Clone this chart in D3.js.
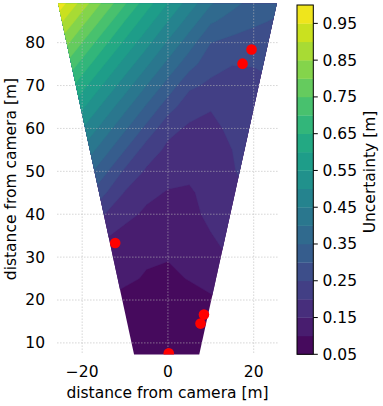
<!DOCTYPE html>
<html>
<head>
<meta charset="utf-8">
<script src="https://cdn.jsdelivr.net/npm/d3@7/dist/d3.min.js"></script>
<style>
  body { margin: 0; background: #fff; }
  text { font-family: "DejaVu Sans", sans-serif; font-size: 15.5px; fill: #000; }
</style>
</head>
<body>
<script>
var w = 383,
    h = 406;

// grid of the uncertainty field (x across, y rows from bottom to top)
var gridX = [-30, -25, -20, -15, -10, -5, 0, 5, 10, 15, 20, 25, 30];
var gridY = [5, 10, 15, 20, 25, 30, 35, 40, 45, 50, 55, 60, 65, 70, 75, 80, 85, 90];
var uncertainty = [
  [0.12, 0.10, 0.085, 0.075, 0.068, 0.065, 0.063, 0.065, 0.072, 0.082, 0.092, 0.10, 0.105],
  [0.13, 0.105, 0.09, 0.08, 0.073, 0.07, 0.068, 0.07, 0.078, 0.088, 0.098, 0.105, 0.11],
  [0.15, 0.12, 0.10, 0.088, 0.08, 0.075, 0.073, 0.077, 0.085, 0.095, 0.105, 0.11, 0.12],
  [0.18, 0.145, 0.12, 0.10, 0.09, 0.082, 0.08, 0.085, 0.095, 0.11, 0.12, 0.13, 0.14],
  [0.23, 0.185, 0.145, 0.118, 0.106, 0.097, 0.092, 0.102, 0.112, 0.125, 0.135, 0.145, 0.15],
  [0.29, 0.23, 0.175, 0.135, 0.115, 0.104, 0.102, 0.106, 0.132, 0.155, 0.165, 0.175, 0.18],
  [0.357, 0.286, 0.216, 0.156, 0.135, 0.12, 0.115, 0.12, 0.148, 0.165, 0.18, 0.19, 0.195],
  [0.415, 0.343, 0.272, 0.202, 0.163, 0.142, 0.13, 0.138, 0.16, 0.172, 0.19, 0.20, 0.205],
  [0.472, 0.40, 0.328, 0.258, 0.196, 0.16, 0.147, 0.147, 0.158, 0.19, 0.205, 0.21, 0.215],
  [0.529, 0.458, 0.386, 0.315, 0.24, 0.193, 0.165, 0.155, 0.158, 0.198, 0.21, 0.215, 0.22],
  [0.578, 0.515, 0.443, 0.372, 0.30, 0.225, 0.19, 0.172, 0.168, 0.20, 0.212, 0.22, 0.225],
  [0.647, 0.574, 0.50, 0.429, 0.357, 0.286, 0.213, 0.193, 0.188, 0.21, 0.218, 0.225, 0.23],
  [0.716, 0.632, 0.559, 0.486, 0.414, 0.343, 0.272, 0.218, 0.203, 0.21, 0.22, 0.23, 0.235],
  [0.782, 0.699, 0.618, 0.544, 0.473, 0.40, 0.33, 0.26, 0.24, 0.235, 0.238, 0.245, 0.25],
  [0.851, 0.766, 0.682, 0.604, 0.53, 0.459, 0.386, 0.32, 0.268, 0.251, 0.252, 0.26, 0.265],
  [0.928, 0.834, 0.749, 0.665, 0.589, 0.516, 0.443, 0.372, 0.30, 0.285, 0.275, 0.27, 0.27],
  [1.002, 0.909, 0.817, 0.733, 0.648, 0.574, 0.50, 0.429, 0.357, 0.33, 0.31, 0.295, 0.29],
  [1.076, 0.984, 0.891, 0.80, 0.716, 0.632, 0.559, 0.486, 0.415, 0.37, 0.34, 0.32, 0.31]
];

// camera field of view (corners of the covered area)
var fovX = [-25.6, 25.4, 7.3, -7.9];
var fovY = [89.1, 89.1, 7.3, 7.3];

// detected objects
var dotX = [19.5, 17.4, -12.3, 8.4, 7.6, 0.2];
var dotY = [78.4, 75.1, 33.3, 16.6, 14.5, 7.6];

var levels = d3.range(0.05, 0.951, 0.05).map(function(d) { return +d.toFixed(2); });
var cbarTicks = [0.05, 0.15, 0.25, 0.35, 0.45, 0.55, 0.65, 0.75, 0.85, 0.95];
var xTicks = [-20, 0, 20];
var yTicks = [10, 20, 30, 40, 50, 60, 70, 80];

var svg = d3.select('body')
            .append('svg')
            .attr('width', w)
            .attr('height', h);

var x = d3.scaleLinear()
          .domain([-25.8, 25.6])
          .range([57.3, 277.7]);

var y = d3.scaleLinear()
          .domain([7.3, 89.1])
          .range([354.5, 3.6]);

// band colour: viridis at the middle of each band
var bandColor = function(lo) {
  return d3.interpolateViridis((lo + 0.025 - 0.05) / 0.95);
};

var defs = svg.append('defs');

defs.append('clipPath')
    .attr('id', 'fov')
    .append('polygon')
    .attr('points', fovX.map(function(d, i) {
      return x(d) + ',' + y(fovY[i]);
    }).join(' '));

defs.append('clipPath')
    .attr('id', 'axes')
    .append('rect')
    .attr('x', x.range()[0])
    .attr('y', y.range()[1])
    .attr('width', x.range()[1] - x.range()[0])
    .attr('height', y.range()[0] - y.range()[1]);

// contours from the grid
var nx = gridX.length,
    ny = gridY.length;
var flat = [];
uncertainty.forEach(function(row) { row.forEach(function(v) { flat.push(v); }); });

var contours = d3.contours()
                 .size([nx, ny])
                 .thresholds(levels)(flat);

var stepX = gridX[1] - gridX[0],
    stepY = gridY[1] - gridY[0];

var path = d3.geoPath(d3.geoTransform({
  point: function(gx, gy) {
    this.stream.point(x(gridX[0] + (gx - 0.5) * stepX),
                      y(gridY[0] + (gy - 0.5) * stepY));
  }
}));

svg.append('g')
   .attr('clip-path', 'url(#fov)')
   .selectAll('path')
   .data(contours)
   .enter()
   .append('path')
   .attr('d', path)
   .style('fill', function(d) { return bandColor(d.value); })
   .style('stroke', function(d) { return bandColor(d.value); })
   .style('stroke-width', 0.4);

// grid lines on top
var grid = svg.append('g')
              .style('stroke', '#b8b8b8')
              .style('stroke-opacity', 0.8)
              .style('stroke-width', 1)
              .style('stroke-dasharray', '1.1,1.9');

grid.selectAll('.gx')
    .data(xTicks)
    .enter()
    .append('line')
    .attr('x1', function(d) { return x(d); })
    .attr('x2', function(d) { return x(d); })
    .attr('y1', y.range()[1])
    .attr('y2', y.range()[0]);

grid.selectAll('.gy')
    .data(yTicks)
    .enter()
    .append('line')
    .attr('y1', function(d) { return y(d); })
    .attr('y2', function(d) { return y(d); })
    .attr('x1', x.range()[0])
    .attr('x2', x.range()[1]);

// points
svg.append('g')
   .attr('clip-path', 'url(#axes)')
   .selectAll('circle')
   .data(dotX)
   .enter()
   .append('circle')
   .attr('cx', function(d) { return x(d); })
   .attr('cy', function(d, i) { return y(dotY[i]); })
   .attr('r', 5.3)
   .style('fill', '#ff0000');

// tick labels
var fmt = function(d) { return d < 0 ? '\u2212' + Math.abs(d) : String(d); };

svg.selectAll('.xt')
   .data(xTicks)
   .enter()
   .append('text')
   .attr('x', function(d) { return x(d); })
   .attr('y', 372)
   .attr('dy', '0.35em')
   .attr('text-anchor', 'middle')
   .text(fmt);

svg.selectAll('.yt')
   .data(yTicks)
   .enter()
   .append('text')
   .attr('x', 45)
   .attr('y', function(d) { return y(d); })
   .attr('dy', '0.35em')
   .attr('text-anchor', 'end')
   .text(fmt);

svg.append('text')
   .attr('x', (x.range()[0] + x.range()[1]) / 2)
   .attr('y', 393)
   .attr('dy', '0.35em')
   .attr('text-anchor', 'middle')
   .text('distance from camera [m]');

svg.append('text')
   .attr('transform', 'translate(11,' + ((y.range()[0] + y.range()[1]) / 2) + ') rotate(-90)')
   .attr('dy', '0.35em')
   .attr('text-anchor', 'middle')
   .text('distance from camera [m]');

// colorbar
var cb = d3.scaleLinear()
           .domain([0.05, 1.0])
           .range([354.3, 5]);
var cbX = 297,
    cbW = 16.3;

svg.append('g')
   .selectAll('rect')
   .data(levels)
   .enter()
   .append('rect')
   .attr('x', cbX)
   .attr('y', function(d) { return cb(d + 0.05); })
   .attr('width', cbW)
   .attr('height', function(d) { return cb(d) - cb(d + 0.05) + 0.3; })
   .style('fill', function(d) { return bandColor(d); });

svg.append('rect')
   .attr('x', cbX)
   .attr('y', cb(1.0))
   .attr('width', cbW)
   .attr('height', cb(0.05) - cb(1.0))
   .style('fill', 'none')
   .style('stroke', '#000')
   .style('stroke-width', 1);

svg.selectAll('.cbt')
   .data(cbarTicks)
   .enter()
   .append('line')
   .attr('x1', cbX + cbW)
   .attr('x2', cbX + cbW + 4.5)
   .attr('y1', function(d) { return cb(d); })
   .attr('y2', function(d) { return cb(d); })
   .style('stroke', '#000')
   .style('stroke-width', 1);

svg.selectAll('.cbl')
   .data(cbarTicks)
   .enter()
   .append('text')
   .attr('x', 322.5)
   .attr('y', function(d) { return cb(d); })
   .attr('dy', '0.35em')
   .text(function(d) { return d.toFixed(2); });

svg.append('text')
   .attr('transform', 'translate(370,172) rotate(-90)')
   .attr('dy', '0.35em')
   .attr('text-anchor', 'middle')
   .text('Uncertainty [m]');
</script>
</body>
</html>
